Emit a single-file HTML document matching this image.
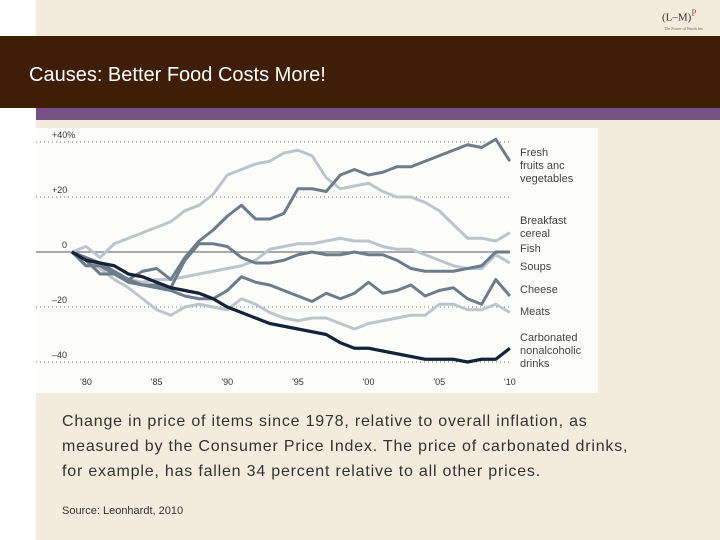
<!DOCTYPE html>
<html><head><meta charset="utf-8"><style>
body{margin:0;width:720px;height:540px;position:relative;overflow:hidden;background:#fff;font-family:"Liberation Sans",sans-serif}
div{position:absolute}
</style></head><body>
<div style="left:36px;top:0;width:684px;height:540px;background:#f3ecdc"></div>
<div style="left:662px;top:8px;width:50px;height:26px;font-family:'Liberation Serif',serif;font-size:11px;color:#333">(L–M)<sup style="color:#b44;font-size:9px">P</sup><div style="top:18px;left:2px;font-size:4px;color:#666;white-space:nowrap">The Power of Words Inc</div></div>
<div style="left:0;top:36px;width:720px;height:72px;background:#3f1d07"></div>
<div style="left:29px;top:64px;color:#fff;font-size:20px">Causes: Better Food Costs More!</div>
<div style="left:36px;top:108px;width:684px;height:12px;background:#765287"></div>
<svg style="position:absolute;left:36px;top:128px" width="562" height="265" viewBox="36 128 562 265"><rect x="36" y="128" width="562" height="265" fill="#fdfdfb"/><g id="g"></g></svg>
<div style="left:62px;top:409px;width:590px;font-size:16px;letter-spacing:0.8px;line-height:25px;color:#333">Change in price of items since 1978, relative to overall inflation, as measured by the Consumer Price Index. The price of carbonated drinks, for example, has fallen 34 percent relative to all other prices.</div>
<div style="left:62px;top:505px;font-size:11px;color:#333">Source: Leonhardt, 2010</div>
<script>
const years=[1979,1980,1981,1982,1983,1984,1985,1986,1987,1988,1989,1990,1991,1992,1993,1994,1995,1996,1997,1998,1999,2000,2001,2002,2003,2004,2005,2006,2007,2008,2009,2010];
const yTicks=[40,20,0,-20,-40];
const yTickLabels=["+40%","+20","0","\u201320","\u201340"];
const xTicks=[1980,1985,1990,1995,2000,2005,2010];
const xTickLabels=["'80","'85","'90","'95","'00","'05","'10"];
const fruits=[0,-5,-5,-8,-10,-7,-6,-10,-2,4,8,13,17,12,12,14,23,23,22,28,30,28,29,31,31,33,35,37,39,38,41,33];
const cereal=[0,2,-2,3,5,7,9,11,15,17,21,28,30,32,33,36,37,35,27,23,24,25,22,20,20,18,15,10,5,5,4,7];
const fish=[0,-3,-8,-8,-11,-12,-12,-13,-3,3,3,2,-2,-4,-4,-3,-1,0,-1,-1,0,-1,-1,-3,-6,-7,-7,-7,-6,-5,0,0];
const soups=[0,-3,-5,-8,-10,-11,-10,-10,-9,-8,-7,-6,-5,-3,1,2,3,3,4,5,4,4,2,1,1,-1,-3,-5,-6,-6,-1,-4];
const cheese=[0,-2,-4,-7,-10,-12,-13,-14,-16,-17,-17,-14,-9,-11,-12,-14,-16,-18,-15,-17,-15,-11,-15,-14,-12,-16,-14,-13,-17,-19,-10,-16];
const meats=[0,-3,-6,-10,-13,-17,-21,-23,-20,-19,-20,-21,-17,-19,-22,-24,-25,-24,-24,-26,-28,-26,-25,-24,-23,-23,-19,-19,-21,-21,-19,-22];
const drinks=[0,-3,-4,-5,-8,-9,-11,-13,-14,-15,-17,-20,-22,-24,-26,-27,-28,-29,-30,-33,-35,-35,-36,-37,-38,-39,-39,-39,-40,-39,-39,-35];
const seriesNames=["Fresh fruits and vegetables","Breakfast cereal","Fish","Soups","Cheese","Meats","Carbonated nonalcoholic drinks"];
const X=y=>86+(y-1980)*14.13, Y=v=>252-v*2.75;
const g=document.getElementById('g'),NS='http://www.w3.org/2000/svg';
function mk(t,a){const e=document.createElementNS(NS,t);for(const k in a)e.setAttribute(k,a[k]);g.appendChild(e);return e;}
yTicks.forEach((t,i)=>{
 const l=mk('line',{x1:36,x2:510,y1:Y(t),y2:Y(t),stroke:'#777','stroke-width':t===0?1.2:1,'stroke-dasharray':t===0?'':'1 3'});
 
 
 const tx=mk('text',{x:t===0?62:52,y:Y(t)-4,'font-size':9,fill:'#333','font-family':'Liberation Sans'});tx.textContent=yTickLabels[i];
 
 
});
xTicks.forEach((t,i)=>{
 const tx=mk('text',{x:X(t),y:385,'font-size':9,fill:'#333','text-anchor':'middle','font-family':'Liberation Sans'});tx.textContent=xTickLabels[i];
 
 
});
function line(d,c,w,name){const p=mk('polyline',{points:d.map((v,i)=>X(years[i])+','+Y(v)).join(' '),fill:'none',stroke:c,'stroke-width':w,'stroke-linejoin':'round'});
 
 }
line(cereal,'#bcc5cb',3,'line-cereal');line(soups,'#bcc5cb',3,'line-soups');line(meats,'#bcc5cb',3,'line-meats');
line(fish,'#6c7c89',3,'line-fish');line(cheese,'#6c7c89',3,'line-cheese');line(fruits,'#6c7c89',3,'line-fruits');
line(drinks,'#13233a',3.2,'line-drinks');
const labels=[[156,["Fresh","fruits anc","vegetables"]],[224,["Breakfast","cereal"]],[252,["Fish"]],[270,["Soups"]],[293,["Cheese"]],[315,["Meats"]],[341,["Carbonated","nonalcoholic","drinks"]]];
labels.forEach(([y,ls])=>ls.forEach((s,j)=>{const t=mk('text',{x:520,y:y+j*13,'font-size':11,fill:'#444','font-family':'Liberation Sans'});t.textContent=s;
 
 }));
</script>
</body></html>
